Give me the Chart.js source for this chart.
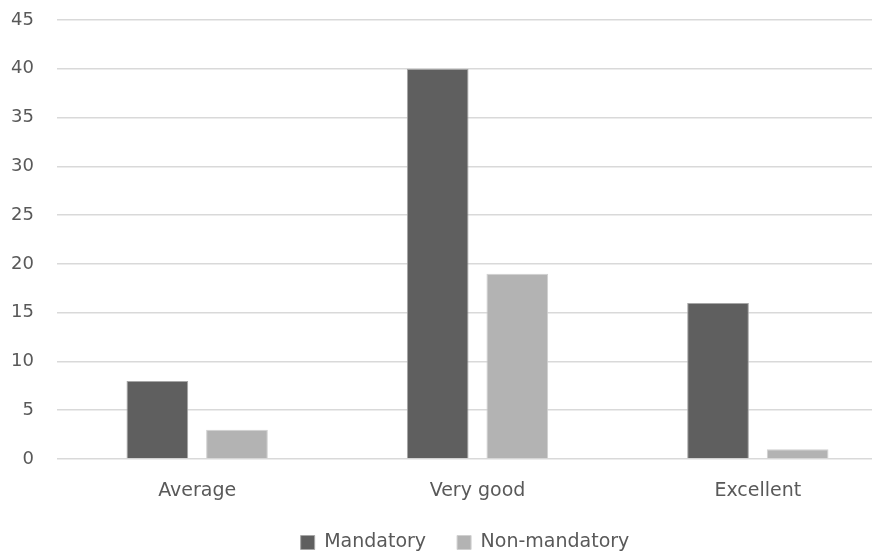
<!DOCTYPE html>
<html>
<head>
<meta charset="utf-8">
<script src="https://cdn.jsdelivr.net/npm/chart.js@4/dist/chart.umd.min.js"></script>
<style>
  html, body { margin: 0; padding: 0; background: #ffffff; overflow: hidden; }
  #wrap { position: relative; width: 898px; height: 554px; }
</style>
</head>
<body>
<div id="wrap"><canvas id="c" width="898" height="554"></canvas></div>
<script>
// Ratings by course type
const categories = ['Average', 'Very good', 'Excellent'];
const mandatory = [8, 40, 16];
const nonMandatory = [3, 19, 1];
const yTicks = [0, 5, 10, 15, 20, 25, 30, 35, 40, 45];

const textColor = '#595959';
const fontFamily = '"DejaVu Sans", sans-serif';
const LEGEND_HEIGHT = 52;
const LEGEND_SHIFT = 16;

// Fixed-height legend band, nudged right so it sits under the whole figure
const legendBand = {
  id: 'legendBand',
  beforeLayout(chart) {
    const lg = chart.legend;
    if (lg && !lg._bandWrapped) {
      const fit = lg.fit.bind(lg);
      lg.fit = function () {
        fit();
        this.height = LEGEND_HEIGHT;
      };
      const draw = lg.draw.bind(lg);
      lg.draw = function () {
        const ctx = this.ctx;
        ctx.save();
        ctx.translate(LEGEND_SHIFT, 0);
        draw();
        ctx.restore();
      };
      lg._bandWrapped = true;
    }
  }
};

new Chart(document.getElementById('c'), {
  type: 'bar',
  data: {
    labels: categories,
    datasets: [
      {
        label: 'Mandatory',
        data: mandatory,
        backgroundColor: '#5f5f5f',
        borderColor: '#a6a6a6',
        borderWidth: 1,
        categoryPercentage: 0.568,
        barPercentage: 0.775
      },
      {
        label: 'Non-mandatory',
        data: nonMandatory,
        backgroundColor: '#b3b3b3',
        borderColor: '#d0d0d0',
        borderWidth: 1,
        categoryPercentage: 0.568,
        barPercentage: 0.775
      }
    ]
  },
  options: {
    responsive: false,
    animation: false,
    devicePixelRatio: 1,
    layout: { padding: { top: 20, right: 0, left: 0, bottom: 0 } },
    plugins: {
      tooltip: { enabled: false },
      legend: {
        position: 'bottom',
        labels: {
          color: textColor,
          font: { family: fontFamily, size: 19 },
          boxWidth: 14,
          boxHeight: 14,
          padding: 31
        }
      }
    },
    scales: {
      x: {
        afterFit(scale) { scale.height = 43; },
        grid: { display: false },
        border: { display: false },
        ticks: {
          color: textColor,
          font: { family: fontFamily, size: 19 },
          padding: 13
        }
      },
      y: {
        min: 0,
        max: 45,
        afterBuildTicks(scale) {
          scale.ticks = yTicks.map(v => ({ value: v }));
        },
        afterFit(scale) {
          scale.width = 57;
          scale.paddingTop = 0;
          scale.paddingBottom = 0;
        },
        grid: { color: '#d9d9d9', lineWidth: 1.5, drawTicks: false },
        border: { display: false },
        ticks: {
          color: textColor,
          font: { family: fontFamily, size: 18 },
          padding: 23
        }
      }
    }
  },
  plugins: [legendBand]
});
</script>
</body>
</html>
